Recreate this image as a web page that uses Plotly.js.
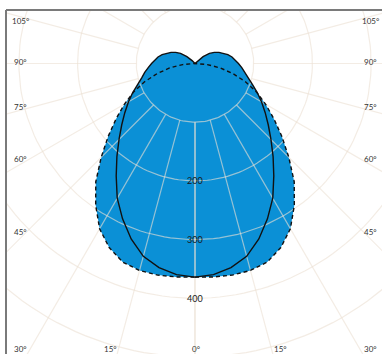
<!DOCTYPE html>
<html><head><meta charset="utf-8">
<script src="https://cdn.plot.ly/plotly-3.0.1.min.js"></script>
<style>html,body{margin:0;padding:0;background:#fff;overflow:hidden}#chart{width:382px;height:354px}</style>
</head><body><div id="chart"></div>
<script>
// ---- data (luminous intensity, cd) ----
const gammaDeg = [0,5,10,15,20,25,30,35,40,45,50,55,60,65,70,75,80,85,90,95,100,105,110,115,120,125,130,135,140,145,150,155,160,165,170,175,180];
const intensityC0 = [364,361,353,340,318,292,265,234,207,183,163,146,131,117,104,94,87,80,74,69,64,58,51,45,38,30,18,7,0,0,0,0,0,0,0,0,0];
const intensityC90 = [364,365,366,365,360,346,325,295,263,226,193,164,139,116,92,67,44,21,0,0,0,0,0,0,0,0,0,0,0,0,0,0,0,0,0,0,0];
const ringValues = [100,200,300,400,500,600,700];
const ringLabelValues = [200,300,400];
const spokeAngles = [0,15,30,45,60,75,90,105,120,135,150,165,180];
const angleLabelsLeft = ['105°','90°','75°','60°','45°'];
const angleLabelsBottom = ['30°','15°','0°','15°','30°'];
const brand = 'MDI';

// ---- geometry (pixels) ----
const W = 382, H = 354, ML = 6, MT = 10;
const CX = 195, CY = 63.5, S = 0.587; // centre and px per cd
const xr = [(ML - CX) / S, (W - CX) / S];
const yr = [(CY - H) / S, (CY - MT) / S];
const rad = d => d * Math.PI / 180;

function curve(vals) {
  const x = [], y = [];
  for (let i = 0; i < gammaDeg.length; i++) { x.push(vals[i] * Math.sin(rad(gammaDeg[i]))); y.push(-vals[i] * Math.cos(rad(gammaDeg[i]))); }
  for (let i = gammaDeg.length - 1; i >= 0; i--) { x.push(-vals[i] * Math.sin(rad(gammaDeg[i]))); y.push(-vals[i] * Math.cos(rad(gammaDeg[i]))); }
  return {x, y};
}
const BLUE = '#0b90d6';
const GRID = 'rgba(236,224,212,0.62)';
const traces = [];
const c90 = curve(intensityC90), c0 = curve(intensityC0);
traces.push({x: c90.x, y: c90.y, mode: 'lines', fill: 'toself', fillcolor: BLUE, line: {width: 0, color: BLUE}, hoverinfo: 'skip'});
traces.push({x: c0.x, y: c0.y, mode: 'lines', fill: 'toself', fillcolor: BLUE, line: {width: 0, color: BLUE}, hoverinfo: 'skip'});
// grid rings
const gx = [], gy = [];
ringValues.forEach(r => {
  for (let a = 0; a <= 360; a += 2) { gx.push(r * Math.sin(rad(a))); gy.push(-r * Math.cos(rad(a))); }
  gx.push(null); gy.push(null);
});
// spokes from innermost ring outward
spokeAngles.forEach(a => {
  [1, -1].forEach(sg => {
    gx.push(sg * ringValues[0] * Math.sin(rad(a)), sg * 900 * Math.sin(rad(a)), null);
    gy.push(-ringValues[0] * Math.cos(rad(a)), -900 * Math.cos(rad(a)), null);
  });
});
traces.push({x: gx, y: gy, mode: 'lines', line: {color: GRID, width: 1.2}, hoverinfo: 'skip', connectgaps: false});
traces.push({x: c90.x, y: c90.y, mode: 'lines', line: {color: '#111', width: 1.4, dash: '4px,3px'}, hoverinfo: 'skip'});
traces.push({x: c0.x, y: c0.y, mode: 'lines', line: {color: '#111', width: 1.4}, hoverinfo: 'skip'});

const px2x = p => (p - ML) / (W - ML);
const px2y = p => (H - p) / (H - MT);
const lf = {family: 'Lato, "Open Sans", sans-serif', size: 8, color: '#333'};
const ann = [];
function lab(t, px, py) { ann.push({xref: 'paper', yref: 'paper', x: px2x(px), y: px2y(py), text: t, showarrow: false, font: lf, xanchor: 'center', yanchor: 'middle'}); }
const leftY = [21.5, 62, 107.5, 159, 232];
angleLabelsLeft.forEach((t, i) => { lab(t, 20, leftY[i]); lab(t, 370, leftY[i]); });
const bottomX = [20, 110, 196, 280, 370];
angleLabelsBottom.forEach((t, i) => lab(t, bottomX[i], 348.5));
ringLabelValues.forEach(r => ann.push({x: 0, y: -r, text: String(r), showarrow: false, font: {family: 'Lato, "Open Sans", sans-serif', size: 9, color: '#1a1a1a'}, xanchor: 'center', yanchor: 'middle'}));
ann.push({xref: 'paper', yref: 'paper', x: px2x(338), y: 1, yshift: 4, text: brand, showarrow: false, font: {family: 'Lato, sans-serif', size: 19, color: '#777'}, xanchor: 'center', yanchor: 'bottom'});

const layout = {
  width: W, height: H, margin: {l: ML, r: 0, t: MT, b: 0}, showlegend: false,
  paper_bgcolor: '#fff', plot_bgcolor: '#fff',
  xaxis: {range: xr, showgrid: false, zeroline: false, showticklabels: false, ticks: '', fixedrange: true},
  yaxis: {range: yr, showgrid: false, zeroline: false, showticklabels: false, ticks: '', fixedrange: true},
  annotations: ann,
  shapes: [
    {type: 'line', xref: 'paper', yref: 'paper', x0: 0, x1: 1, y0: 1, y1: 1, line: {color: '#7a7a7a', width: 2}},
    {type: 'line', xref: 'paper', yref: 'paper', x0: 0, x1: 0, y0: 0, y1: 1, line: {color: '#7a7a7a', width: 2}}
  ]
};
Plotly.newPlot('chart', traces, layout, {staticPlot: true, displayModeBar: false});
</script></body></html>
